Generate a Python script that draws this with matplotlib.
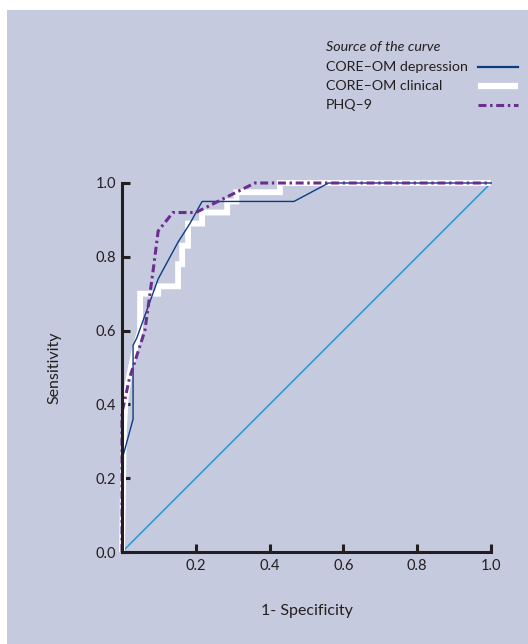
import matplotlib
matplotlib.use("Agg")
import matplotlib.pyplot as plt
from matplotlib.patches import Rectangle
from matplotlib.lines import Line2D

plt.rcParams['font.family'] = ['Lato', 'DejaVu Sans']

# --- data ---
dep_fpr = [0.0, 0.0, 0.03, 0.03, 0.04, 0.098, 0.152, 0.184, 0.217, 0.466, 0.56, 1.0]
dep_tpr = [0.0, 0.25, 0.36, 0.56, 0.58, 0.74, 0.84, 0.89, 0.95, 0.95, 1.0, 1.0]

cli_fpr = [0.0, 0.005, 0.01, 0.02, 0.035, 0.049, 0.049, 0.098, 0.098, 0.152, 0.152, 0.163, 0.163,
           0.179, 0.179, 0.217, 0.217, 0.285, 0.285, 0.31, 0.31, 0.428, 0.428, 1.0]
cli_tpr = [0.0, 0.33, 0.42, 0.48, 0.55, 0.60, 0.70, 0.70, 0.72, 0.72, 0.78, 0.78, 0.83,
           0.83, 0.89, 0.89, 0.92, 0.92, 0.95, 0.95, 0.975, 0.975, 1.0, 1.0]

phq_fpr = [0.0, 0.0, 0.005, 0.02, 0.062, 0.084, 0.098, 0.138, 0.20, 0.32, 0.36, 1.0]
phq_tpr = [0.0, 0.38, 0.40, 0.47, 0.60, 0.76, 0.87, 0.92, 0.92, 0.98, 1.0, 1.0]

ref_x = [0.0, 1.0]
ref_y = [0.0, 1.0]

ticks = [0.0, 0.2, 0.4, 0.6, 0.8, 1.0]
tick_labels = ["0.0", "0.2", "0.4", "0.6", "0.8", "1.0"]
legend_title = "Source of the curve"
series_names = ["CORE\u2013OM depression", "CORE\u2013OM clinical", "PHQ\u20139"]

# --- styling ---
BG = "#c5cade"
TXT = "#231f20"
C_DEP = "#0d3c84"
C_CLI = "#ffffff"
C_PHQ = "#6b2d8e"
C_REF = "#1f9ad8"

W, H = 528, 644
fig = plt.figure(figsize=(W / 100, H / 100), dpi=100)
fig.patch.set_facecolor("white")
fig.patches.append(Rectangle((7 / W, 0), 1 - 7 / W, 1 - 10 / H, transform=fig.transFigure,
                             facecolor=BG, edgecolor="none", zorder=-10))

ax = fig.add_axes([122 / W, 1 - 552 / H, (491 - 122) / W, (552 - 183) / H])
ax.set_facecolor("none")
ax.set_xlim(0, 1)
ax.set_ylim(0, 1)

ax.plot(ref_x, ref_y, color=C_REF, lw=1.1, zorder=2, clip_on=False)
ax.plot(cli_fpr, cli_tpr, color=C_CLI, lw=4.2, zorder=3, clip_on=False,
        solid_joinstyle="miter", solid_capstyle="butt")
ax.plot(dep_fpr, dep_tpr, color=C_DEP, lw=1.0, zorder=4, clip_on=False)
ax.plot(phq_fpr, phq_tpr, color=C_PHQ, lw=2.2, zorder=5, clip_on=False,
        linestyle=(0, (2.6, 1.2, 0.8, 1.2)))

for s in ["top", "right"]:
    ax.spines[s].set_visible(False)
for s in ["left", "bottom"]:
    ax.spines[s].set_linewidth(2.2)
    ax.spines[s].set_color("#231f20")
    ax.spines[s].set_zorder(6)

ax.set_xticks(ticks[1:])
ax.set_xticklabels(tick_labels[1:])
ax.set_yticks(ticks)
ax.set_yticklabels(tick_labels)
ax.tick_params(axis="both", direction="in", length=6, width=2.2, color="#231f20",
               labelsize=10.5, labelcolor=TXT)
ax.tick_params(axis="x", pad=5)
ax.tick_params(axis="y", pad=4)

ax.set_xlabel("1- Specificity", fontsize=11.5, color=TXT, labelpad=22)
ax.set_ylabel("Sensitivity", fontsize=11.5, color=TXT, labelpad=25)

# --- manual legend ---
tx = 326 / W
fig.text(tx, 1 - 47 / H, legend_title, fontsize=10.3, style="italic", color=TXT, va="center", ha="left")
ys = [67, 86, 105]
styles = [dict(color=C_DEP, lw=1.6),
          dict(color=C_CLI, lw=4.5, solid_capstyle="butt"),
          dict(color=C_PHQ, lw=2.2, linestyle=(0, (2.6, 1.2, 0.8, 1.2)))]
for name, yy, st in zip(series_names, ys, styles):
    fig.text(tx, 1 - yy / H, name, fontsize=10.3, color=TXT, va="center", ha="left")
    fig.lines.append(Line2D([478 / W, 518 / W], [1 - yy / H, 1 - yy / H],
                            transform=fig.transFigure, **st))

fig.savefig("out.png", dpi=100, facecolor=fig.get_facecolor())
